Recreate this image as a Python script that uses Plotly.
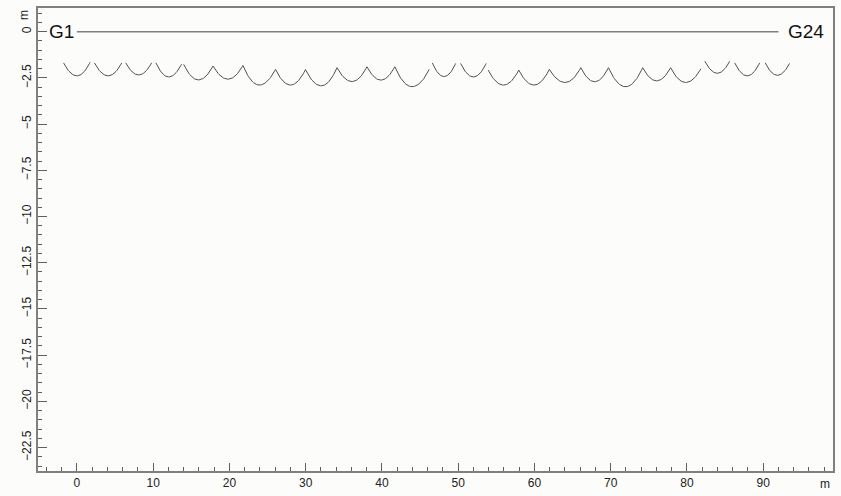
import numpy as np
import plotly.graph_objects as go

# ---- data ----
line_start = 0.0
line_end = 92.0
line_labels = ["G1", "G24"]

arc_left = [-1.75, 2.30, 6.40, 10.36, 14.0, 17.85, 21.77, 26.05, 29.97, 34.11, 38.03, 41.69,
            46.6, 50.32, 53.93, 57.94, 61.95, 66.08, 69.70, 74.19, 77.85, 82.34, 86.26, 90.26]
arc_right = [1.74, 5.88, 9.80, 13.72, 17.85, 21.77, 26.05, 29.97, 34.11, 38.03, 41.69, 46.2,
             49.67, 53.67, 57.94, 61.95, 66.08, 69.70, 74.19, 77.85, 81.82, 85.61, 89.53, 93.45]
arc_left_y = [-1.69, -1.69, -1.69, -1.69, -1.77, -1.86, -1.83, -2.04, -2.05, -1.95, -1.90, -1.90,
              -1.69, -1.72, -2.08, -2.08, -2.04, -1.95, -1.95, -1.95, -1.95, -1.60, -1.69, -1.69]
arc_right_y = [-1.65, -1.69, -1.69, -1.76, -1.86, -1.83, -2.04, -2.05, -1.95, -1.90, -1.90, -2.04,
               -1.72, -1.72, -2.08, -2.04, -1.95, -1.95, -1.95, -1.95, -2.01, -1.60, -1.69, -1.72]
arc_bottom = [-2.39, -2.39, -2.34, -2.45, -2.61, -2.57, -2.89, -2.89, -2.93, -2.70, -2.62, -2.98,
              -2.43, -2.45, -2.89, -2.89, -2.75, -2.71, -2.98, -2.66, -2.75, -2.25, -2.39, -2.36]

x_tickvals = [0, 10, 20, 30, 40, 50, 60, 70, 80, 90]
y_tickvals = [0, -2.5, -5, -7.5, -10, -12.5, -15, -17.5, -20, -22.5]

# ---- build arc curves ----
ax, ay = [], []
for L, R, ly, ry, yb in zip(arc_left, arc_right, arc_left_y, arc_right_y, arc_bottom):
    m = (L + R) / 2
    xs = np.linspace(L, R, 41)
    ys = np.where(xs < m,
                  yb + (ly - yb) * ((xs - m) / (m - L)) ** 2,
                  yb + (ry - yb) * ((xs - m) / (R - m)) ** 2)
    ax += list(xs) + [None]
    ay += list(ys) + [None]

fig = go.Figure()
fig.add_trace(go.Scatter(x=[line_start, line_end], y=[0, 0], mode="lines",
                         line=dict(color="#808080", width=1.5), hoverinfo="skip"))
fig.add_trace(go.Scatter(x=ax, y=ay, mode="lines",
                         line=dict(color="#505050", width=1), hoverinfo="skip"))

font_family = "Liberation Sans, Arial, sans-serif"
fig.add_annotation(x=line_start, y=0, text=line_labels[0], showarrow=False,
                   xanchor="right", yanchor="middle", xshift=-1,
                   font=dict(size=19, color="#111111", family=font_family))
fig.add_annotation(x=line_end, y=0, text=line_labels[1], showarrow=False,
                   xanchor="left", yanchor="middle", xshift=8,
                   font=dict(size=19, color="#111111", family=font_family))
# unit labels
fig.add_annotation(xref="paper", yref="paper", x=1.0, y=0, text="m", showarrow=False,
                   xanchor="right", yanchor="top", yshift=-4, xshift=-1,
                   font=dict(size=12, color="#222222", family=font_family))
fig.add_annotation(xref="paper", yref="paper", x=0, y=1.0, text="m", showarrow=False,
                   xanchor="right", yanchor="top", xshift=-5, yshift=0, textangle=-90,
                   font=dict(size=12, color="#222222", family=font_family))

axis_common = dict(showline=True, linecolor="#808080", linewidth=1.5, mirror=True,
                   showgrid=False, zeroline=False, ticks="inside", tickcolor="#606060",
                   tickwidth=1, tickfont=dict(size=12, color="#222222", family=font_family))

fig.update_xaxes(range=[-5.1, 99.15], tickvals=x_tickvals, ticklen=8,
                 minor=dict(dtick=2, tick0=0, ticks="inside", ticklen=4, tickcolor="#606060"),
                 **axis_common)
fig.update_yaxes(range=[-23.77, 1.28], tickvals=y_tickvals, ticklen=9, tickangle=-90,
                 minor=dict(dtick=0.5, tick0=0, ticks="inside", ticklen=4, tickcolor="#606060"),
                 **axis_common)

fig.update_layout(width=841, height=496, margin=dict(l=38, r=6, t=6, b=19),
                  paper_bgcolor="#fcfdfb", plot_bgcolor="#fcfdfb", showlegend=False)

fig.write_html("out.html")
